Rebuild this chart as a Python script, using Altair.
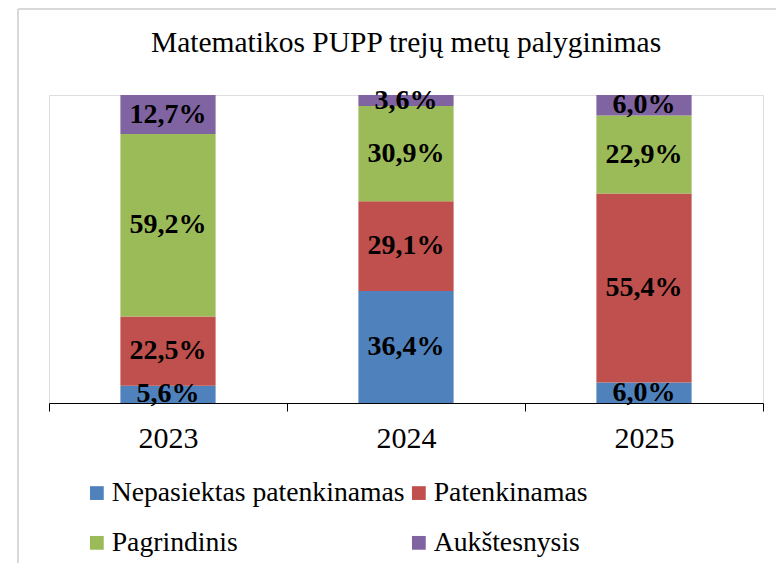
import altair as alt
import pandas as pd

years = ["2023", "2024", "2025"]
categories = ["Nepasiektas patenkinamas", "Patenkinamas", "Pagrindinis", "Aukštesnysis"]
nepasiektas = [5.6, 36.4, 6.0]
patenkinamas = [22.5, 29.1, 55.4]
pagrindinis = [59.2, 30.9, 22.9]
aukstesnysis = [12.7, 3.6, 6.0]
colors = ["#4F81BD", "#C0504D", "#9BBB59", "#8064A2"]

FONT = "Liberation Serif, Times New Roman, serif"

rows = []
series = [nepasiektas, patenkinamas, pagrindinis, aukstesnysis]
for i, yr in enumerate(years):
    for k, cat in enumerate(categories):
        v = series[k][i]
        rows.append({"year": yr, "cat": cat, "order": k, "value": v,
                     "label": f"{v:.1f}".replace(".", ",") + "%"})
df = pd.DataFrame(rows)

base = alt.Chart(df).transform_stack(
    stack="value", groupby=["year"], as_=["y0", "y1"], offset="normalize",
    sort=[alt.SortField("order", order="ascending")]
).transform_calculate(mid="(datum.y0 + datum.y1) / 2")

xenc = alt.X("year:N", title=None, sort=years,
             scale=alt.Scale(paddingInner=0, paddingOuter=0),
             axis=alt.Axis(labelAngle=0, tickBand="extent", domainColor="black",
                           tickColor="black", tickSize=8, tickWidth=1, domainWidth=1,
                           labelFont=FONT, labelFontSize=30, labelColor="black",
                           labelPadding=12, grid=False))

bars = base.mark_bar(width=alt.RelativeBandSize(0.4)).encode(
    x=xenc,
    y=alt.Y("y0:Q", axis=None, scale=alt.Scale(domain=[0, 1])),
    y2="y1:Q",
    color=alt.Color("cat:N", scale=alt.Scale(domain=categories, range=colors),
                    legend=alt.Legend(title=None, orient="none", legendX=34, legendY=384,
                                      columns=2, direction="horizontal",
                                      symbolType="square", symbolSize=190,
                                      symbolStrokeWidth=0,
                                      labelFont=FONT, labelFontSize=27.7, labelColor="black",
                                      labelLimit=500, labelOffset=1, columnPadding=0,
                                      rowPadding=21, padding=0)),
)

labels = base.mark_text(font=FONT, fontSize=28, fontWeight="bold", color="black",
                        baseline="middle").encode(
    x=alt.X("year:N", sort=years),
    y=alt.Y("mid:Q"),
    text="label:N",
)

frame_df = pd.DataFrame({"a": [0]})
frame_v = alt.Chart(frame_df).mark_rule(color="#d9d9d9", strokeWidth=2).encode(
    x=alt.value(-31), y=alt.value(-86), y2=alt.value(480))
frame_h = alt.Chart(frame_df).mark_rule(color="#d9d9d9", strokeWidth=2).encode(
    x=alt.value(-31), x2=alt.value(760), y=alt.value(-86))

chart = alt.layer(frame_v, frame_h, bars, labels).properties(
    width=714, height=308,
    title=alt.TitleParams("Matematikos PUPP trejų metų palyginimas", font=FONT,
                          fontSize=29.5, fontWeight="normal", color="black",
                          anchor="middle", offset=-50),
    padding={"left": 41, "top": 87, "right": 13, "bottom": 160},
    autosize="none",
).configure_view(stroke=None).configure(background="white")

chart.save("out.html", embed_options={"renderer": "svg", "actions": False})
